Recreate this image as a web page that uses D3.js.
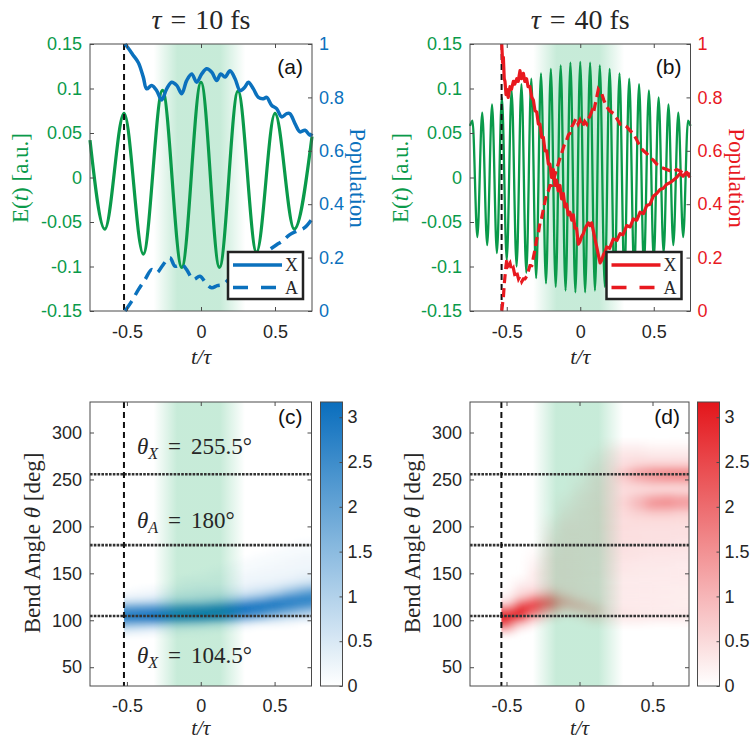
<!DOCTYPE html>
<html><head><meta charset="utf-8">
<script src="https://cdn.jsdelivr.net/npm/d3@7"></script>
<style>
body{margin:0;background:#fff;}
svg text{font-family:"Liberation Sans",Arial,Helvetica,sans-serif;}
</style></head><body>
<svg id="chart" width="753" height="742"></svg>
<script>
// ---------------- DATA ----------------
const xTickVals = [-0.5, 0, 0.5];
const xTickLabels = ["-0.5", "0", "0.5"];
const eTickVals = [-0.15, -0.1, -0.05, 0, 0.05, 0.1, 0.15];
const eTickLabels = ["-0.15", "-0.1", "-0.05", "0", "0.05", "0.1", "0.15"];
const popTickVals = [0, 0.2, 0.4, 0.6, 0.8, 1];
const popTickLabels = ["0", "0.2", "0.4", "0.6", "0.8", "1"];
const thetaTickVals = [50, 100, 150, 200, 250, 300];
const cbTickVals = [0, 0.5, 1, 1.5, 2, 2.5, 3];
const cbTickLabels = ["0", "0.5", "1", "1.5", "2", "2.5", "3"];
const refAngles = [104.5, 180, 255.5];
const pumpStart = [-0.52, -0.535]; // tau = 10 fs, tau = 40 fs

// (a) field extrema, tau = 10 fs  [t/tau, E]
const fieldA = [[-0.75,0.042],[-0.65,-0.058],[-0.52,0.072],[-0.39,-0.086],[-0.26,0.098],[-0.13,-0.101],[0,0.107],[0.125,-0.101],[0.25,0.097],[0.375,-0.084],[0.5,0.072],[0.63,-0.058],[0.75,0.046]];
// (a) populations
const popXA = [[-0.513,1.0],[-0.479,0.975],[-0.457,0.957],[-0.423,0.93],[-0.39,0.876],[-0.367,0.832],[-0.333,0.845],[-0.3,0.826],[-0.266,0.79],[-0.232,0.832],[-0.198,0.857],[-0.164,0.845],[-0.13,0.814],[-0.097,0.863],[-0.063,0.888],[-0.029,0.857],[0.005,0.888],[0.039,0.907],[0.073,0.894],[0.106,0.863],[0.133,0.888],[0.162,0.876],[0.196,0.9],[0.23,0.87],[0.264,0.826],[0.297,0.839],[0.32,0.857],[0.354,0.832],[0.388,0.8],[0.421,0.795],[0.444,0.8],[0.478,0.77],[0.511,0.758],[0.545,0.727],[0.579,0.739],[0.601,0.739],[0.635,0.702],[0.669,0.671],[0.703,0.677],[0.736,0.658],[0.75,0.665]];
const popAA = [[-0.513,0],[-0.468,0.037],[-0.423,0.08],[-0.378,0.118],[-0.333,0.155],[-0.3,0.143],[-0.255,0.174],[-0.21,0.2],[-0.176,0.168],[-0.13,0.174],[-0.097,0.155],[-0.052,0.118],[-0.007,0.13],[0.039,0.1],[0.073,0.087],[0.11,0.095],[0.15,0.1],[0.2,0.125],[0.25,0.15],[0.3,0.17],[0.35,0.2],[0.4,0.205],[0.45,0.225],[0.511,0.248],[0.55,0.262],[0.6,0.286],[0.65,0.3],[0.7,0.312],[0.75,0.345]];

// (b) field extrema, tau = 40 fs
const fieldB = [[-0.75,0.058],[-0.733,0.064],[-0.7,-0.067],[-0.667,0.073],[-0.633,-0.076],[-0.6,0.082],[-0.567,-0.085],[-0.533,0.090],[-0.5,-0.093],[-0.467,0.098],[-0.433,-0.100],[-0.4,0.105],[-0.367,-0.107],[-0.333,0.111],[-0.3,-0.113],[-0.267,0.117],[-0.233,-0.119],[-0.2,0.122],[-0.167,-0.123],[-0.133,0.126],[-0.1,-0.127],[-0.067,0.129],[-0.033,-0.129],[0,0.130],[0.033,-0.129],[0.067,0.129],[0.1,-0.127],[0.133,0.126],[0.167,-0.123],[0.2,0.122],[0.233,-0.119],[0.267,0.117],[0.3,-0.113],[0.333,0.111],[0.367,-0.107],[0.4,0.105],[0.433,-0.100],[0.467,0.098],[0.5,-0.093],[0.533,0.090],[0.567,-0.085],[0.6,0.082],[0.633,-0.076],[0.667,0.073],[0.7,-0.067],[0.733,0.064],[0.75,0.058]];
// (b) populations
const popXB = [[-0.534,1.0],[-0.528,0.93],[-0.523,0.95],[-0.517,0.87],[-0.512,0.86],[-0.505,0.81],[-0.5,0.83],[-0.49,0.80],[-0.478,0.84],[-0.468,0.83],[-0.455,0.86],[-0.445,0.85],[-0.432,0.87],[-0.422,0.86],[-0.41,0.90],[-0.40,0.87],[-0.387,0.89],[-0.377,0.86],[-0.365,0.87],[-0.355,0.84],[-0.342,0.84],[-0.33,0.80],[-0.319,0.79],[-0.308,0.75],[-0.296,0.745],[-0.285,0.70],[-0.274,0.70],[-0.262,0.65],[-0.251,0.65],[-0.24,0.60],[-0.228,0.60],[-0.217,0.55],[-0.206,0.55],[-0.195,0.50],[-0.183,0.53],[-0.172,0.47],[-0.161,0.49],[-0.15,0.45],[-0.138,0.47],[-0.127,0.42],[-0.115,0.44],[-0.104,0.39],[-0.093,0.40],[-0.082,0.36],[-0.07,0.37],[-0.058,0.34],[-0.047,0.36],[-0.036,0.31],[-0.025,0.31],[-0.013,0.25],[-0.002,0.26],[0.01,0.28],[0.021,0.29],[0.033,0.31],[0.044,0.32],[0.055,0.33],[0.066,0.32],[0.078,0.33],[0.089,0.30],[0.1,0.27],[0.112,0.24],[0.123,0.21],[0.135,0.18],[0.146,0.19],[0.157,0.21],[0.168,0.22],[0.18,0.24],[0.2,0.235],[0.225,0.27],[0.25,0.265],[0.271,0.29],[0.29,0.285],[0.316,0.32],[0.34,0.315],[0.361,0.345],[0.385,0.34],[0.407,0.37],[0.43,0.365],[0.452,0.395],[0.475,0.40],[0.497,0.43],[0.52,0.44],[0.543,0.455],[0.565,0.46],[0.588,0.475],[0.61,0.48],[0.633,0.49],[0.655,0.50],[0.679,0.515],[0.7,0.505],[0.724,0.52],[0.747,0.50]];
const popAB = [[-0.534,0.0],[-0.528,0.03],[-0.523,0.05],[-0.517,0.10],[-0.512,0.13],[-0.505,0.17],[-0.5,0.19],[-0.49,0.17],[-0.478,0.18],[-0.466,0.15],[-0.455,0.16],[-0.443,0.13],[-0.432,0.145],[-0.42,0.12],[-0.41,0.13],[-0.398,0.11],[-0.387,0.12],[-0.376,0.12],[-0.365,0.13],[-0.353,0.15],[-0.342,0.17],[-0.33,0.17],[-0.319,0.20],[-0.308,0.23],[-0.296,0.27],[-0.285,0.29],[-0.274,0.33],[-0.262,0.35],[-0.251,0.38],[-0.24,0.41],[-0.228,0.44],[-0.217,0.45],[-0.206,0.47],[-0.195,0.47],[-0.183,0.49],[-0.172,0.51],[-0.161,0.53],[-0.145,0.56],[-0.127,0.59],[-0.11,0.62],[-0.093,0.64],[-0.08,0.66],[-0.07,0.665],[-0.058,0.69],[-0.047,0.70],[-0.03,0.72],[-0.015,0.70],[-0.002,0.715],[0.015,0.69],[0.03,0.71],[0.044,0.70],[0.055,0.72],[0.066,0.73],[0.08,0.75],[0.09,0.74],[0.1,0.77],[0.112,0.80],[0.123,0.83],[0.135,0.82],[0.146,0.815],[0.16,0.79],[0.18,0.765],[0.2,0.75],[0.225,0.74],[0.25,0.72],[0.271,0.70],[0.29,0.70],[0.316,0.69],[0.34,0.675],[0.361,0.665],[0.385,0.64],[0.407,0.615],[0.43,0.60],[0.452,0.59],[0.475,0.575],[0.497,0.565],[0.52,0.55],[0.543,0.54],[0.565,0.535],[0.588,0.53],[0.61,0.525],[0.633,0.52],[0.655,0.53],[0.679,0.525],[0.7,0.515],[0.724,0.51],[0.747,0.515]];

// Heatmaps: column times, first angle of each column (5 deg steps), densities
const heatT = [-0.5,-0.4,-0.3,-0.2,-0.1,0,0.1,0.2,0.3,0.4,0.5,0.6,0.7,0.8];
const heatCTheta0 = [85,85,85,85,85,85,90,90,90,95,95,95,100,100];
const heatCVals = [
 [0.2,0.6,1.4,2.4,2.8,2.6,1.8,0.8,0.3,0.1],
 [0.15,0.5,1.3,2.4,2.9,2.7,1.9,0.9,0.35,0.15,0.05],
 [0.1,0.4,1.2,2.4,3.0,2.8,2.0,1.0,0.45,0.2,0.1],
 [0.1,0.3,1.0,2.3,3.0,2.9,2.1,1.1,0.55,0.3,0.15,0.05],
 [0.05,0.25,0.9,2.2,3.0,3.0,2.3,1.2,0.6,0.4,0.25,0.15,0.1],
 [0.05,0.2,0.8,2.1,3.1,3.1,2.4,1.3,0.7,0.45,0.3,0.2,0.1,0.05],
 [0.15,0.6,1.9,3.0,3.15,2.6,1.5,0.8,0.45,0.3,0.2,0.15,0.1,0.05],
 [0.1,0.5,1.6,2.8,3.1,2.8,1.8,0.95,0.5,0.3,0.2,0.15,0.12,0.1,0.05],
 [0.05,0.35,1.2,2.4,2.95,2.9,2.1,1.2,0.6,0.35,0.25,0.2,0.15,0.12,0.1,0.05],
 [0.2,0.9,2.0,2.7,2.9,2.4,1.5,0.8,0.45,0.3,0.22,0.18,0.15,0.12,0.1,0.05],
 [0.15,0.6,1.5,2.3,2.8,2.7,2.0,1.1,0.6,0.35,0.25,0.2,0.17,0.15,0.12,0.1,0.05],
 [0.1,0.4,1.1,1.9,2.5,2.7,2.4,1.6,0.9,0.5,0.3,0.22,0.2,0.17,0.15,0.12,0.1,0.05],
 [0.3,0.8,1.5,2.2,2.6,2.6,2.0,1.3,0.7,0.4,0.28,0.22,0.2,0.18,0.15,0.12,0.1,0.05],
 [0.25,0.6,1.2,1.9,2.5,2.6,2.3,1.6,0.9,0.5,0.3,0.25,0.2,0.18,0.15,0.12,0.1,0.05]
];
const heatDTheta0 = [85,90,95,100,105,100,95,95,95,95,95,95,95,95];
const heatDVals = [
 [0.3,1.0,2.0,2.7,2.8,2.3,1.3,0.5,0.2,0.1],
 [0.2,0.7,1.6,2.7,3.0,2.6,1.7,0.9,0.5,0.35,0.2,0.1],
 [0.2,0.6,1.3,2.0,2.4,2.2,1.5,0.8,0.45,0.35,0.3,0.3,0.25,0.2,0.15,0.1,0.05],
 [0.2,0.6,1.2,1.8,2.0,1.6,1.0,0.6,0.45,0.4,0.4,0.4,0.4,0.4,0.35,0.35,0.3,0.3,0.25,0.2,0.15,0.1,0.05],
 [0.2,0.5,0.9,1.1,0.9,0.6,0.45,0.42,0.42,0.42,0.42,0.42,0.42,0.42,0.42,0.42,0.4,0.4,0.4,0.38,0.35,0.3,0.25,0.2,0.15,0.1,0.05],
 [0.1,0.3,0.7,0.9,0.8,0.55,0.42,0.4,0.4,0.4,0.4,0.4,0.4,0.4,0.4,0.4,0.4,0.4,0.4,0.4,0.38,0.38,0.36,0.35,0.33,0.3,0.28,0.25,0.2,0.15,0.1,0.05,0.03],
 [0.1,0.3,0.6,0.8,0.7,0.5,0.4,0.38,0.35,0.38,0.35,0.38,0.35,0.38,0.35,0.38,0.38,0.4,0.4,0.4,0.4,0.4,0.4,0.4,0.4,0.4,0.4,0.38,0.38,0.35,0.35,0.32,0.3,0.25,0.2,0.15,0.1,0.05],
 [0.1,0.22,0.35,0.38,0.35,0.3,0.35,0.3,0.35,0.3,0.35,0.35,0.38,0.38,0.4,0.4,0.42,0.42,0.45,0.45,0.45,0.48,0.45,0.48,0.45,0.48,0.45,0.45,0.45,0.48,0.45,0.45,0.42,0.4,0.38,0.35,0.3,0.25,0.15,0.08],
 [0.1,0.22,0.3,0.35,0.3,0.28,0.3,0.28,0.3,0.28,0.3,0.3,0.35,0.35,0.38,0.4,0.42,0.42,0.45,0.45,0.45,0.48,0.45,0.5,0.5,0.55,0.6,0.55,0.5,0.5,0.55,0.65,0.8,0.7,0.5,0.42,0.38,0.3,0.2,0.1],
 [0.1,0.22,0.3,0.3,0.28,0.28,0.28,0.28,0.28,0.28,0.28,0.3,0.3,0.32,0.35,0.38,0.4,0.4,0.42,0.45,0.42,0.45,0.48,0.55,0.65,0.85,0.95,0.85,0.65,0.55,0.7,1.0,1.2,1.1,0.7,0.5,0.4,0.3,0.2,0.1],
 [0.05,0.2,0.28,0.28,0.28,0.28,0.28,0.28,0.28,0.28,0.28,0.28,0.3,0.32,0.32,0.35,0.38,0.38,0.42,0.42,0.42,0.45,0.48,0.6,0.8,1.2,1.4,1.2,0.8,0.6,0.8,1.2,1.4,1.3,0.8,0.5,0.35,0.25,0.15,0.05],
 [0.05,0.2,0.28,0.28,0.25,0.28,0.25,0.28,0.25,0.28,0.28,0.28,0.28,0.32,0.32,0.35,0.38,0.38,0.42,0.42,0.42,0.45,0.48,0.6,0.8,1.2,1.5,1.3,0.9,0.6,0.8,1.3,1.5,1.4,0.8,0.5,0.35,0.25,0.15,0.05],
 [0.05,0.2,0.28,0.28,0.25,0.25,0.25,0.25,0.25,0.28,0.28,0.28,0.28,0.28,0.32,0.32,0.38,0.38,0.38,0.42,0.42,0.42,0.48,0.55,0.7,1.1,1.3,1.2,0.8,0.6,0.8,1.3,1.6,1.4,0.8,0.5,0.35,0.25,0.15,0.05],
 [0.05,0.2,0.28,0.28,0.25,0.25,0.25,0.25,0.25,0.28,0.28,0.28,0.28,0.28,0.32,0.32,0.38,0.38,0.38,0.42,0.42,0.42,0.48,0.55,0.7,1.1,1.3,1.2,0.8,0.6,0.8,1.3,1.6,1.4,0.8,0.5,0.35,0.25,0.15,0.05]
];

// ---------------- STYLE ----------------
const GREEN = "#0a9a4a", BLUE = "#0b71bd", RED = "#e8191f", AX = "#4a4a4a", TXT = "#262626";
const SERIF = "'Liberation Serif','Times New Roman',serif";
const SANS = "'Liberation Sans',Arial,Helvetica,sans-serif";
const svg = d3.select("#chart");
const defs = svg.append("defs");

// scales
const yE = d3.scaleLinear([-0.15, 0.15], [311, 44]);
const yP = d3.scaleLinear([0, 1], [311, 44]);
const yTh = d3.scaleLinear([30, 332.5], [686, 402]);
const cbY = d3.scaleLinear([0, 3.17], [686, 402]);
const xA = d3.scaleLinear([-0.75, 0.75], [90, 312]);
const xB = d3.scaleLinear([-0.75, 0.75], [470, 690.5]);
const xC = d3.scaleLinear([-0.75, 0.75], [90, 311.5]);
const xD = d3.scaleLinear([-0.75, 0.75], [470, 689]);
const cBlue = d3.scaleLinear([0, 3.17], ["#ffffff", "#0a6ebd"]);
const cRed = d3.scaleLinear([0, 3.17], ["#ffffff", "#e3161b"]);

// green pump band gradient
function bandGradient(id, xs) {
  const g = defs.append("linearGradient").attr("id", id).attr("gradientUnits", "userSpaceOnUse")
    .attr("x1", xs(-0.32)).attr("x2", xs(0.30)).attr("y1", 0).attr("y2", 0);
  const span = 0.62;
  [[-0.32, 0], [-0.16, 1], [0.13, 1], [0.30, 0]].forEach(([t, o]) => {
    g.append("stop").attr("offset", (t + 0.32) / span).attr("stop-color", "rgb(0,165,80)").attr("stop-opacity", 0.22 * o);
  });
}
["bandA", "bandB", "bandC", "bandD"].forEach((id, i) => bandGradient(id, [xA, xB, xC, xD][i]));

const blur = defs.append("filter").attr("id", "blur").attr("x", "-10%").attr("y", "-10%").attr("width", "120%").attr("height", "120%");
blur.append("feGaussianBlur").attr("stdDeviation", "5.5 2.2");

function styleAxis(g, color, size) {
  g.select(".domain").remove();
  g.selectAll(".tick line").attr("stroke", AX).attr("stroke-width", 1);
  g.selectAll(".tick text").attr("fill", color).style("font-family", SANS).style("font-size", (size || 18) + "px");
}

function frame(g, xs, ys) {
  const [x0, x1] = xs.range(), [y1, y0] = ys.range();
  g.append("rect").attr("x", x0).attr("y", y0).attr("width", x1 - x0).attr("height", y1 - y0)
    .attr("fill", "none").attr("stroke", AX).attr("stroke-width", 1);
}

function xAxes(g, xs, ys, pad) {
  const [yb, yt] = ys.range();
  const b = g.append("g").attr("transform", `translate(0,${yb})`)
    .call(d3.axisBottom(xs).tickValues(xTickVals).tickFormat((d, i) => xTickLabels[i]).tickSize(-4).tickPadding(pad));
  styleAxis(b, TXT);
  const t = g.append("g").attr("transform", `translate(0,${yt})`)
    .call(d3.axisTop(xs).tickValues(xTickVals).tickFormat("").tickSize(-4));
  styleAxis(t, TXT);
}

function xLabel(g, cx, y, size) {
  g.append("text").attr("x", cx).attr("y", y).attr("text-anchor", "middle")
    .style("font-family", SERIF).style("font-size", size + "px").style("font-style", "italic").attr("fill", TXT)
    .text("t/τ");
}

function topPanel(o) {
  const g = svg.append("g");
  const xs = o.xs;
  const [x0, x1] = xs.range();
  g.append("rect").attr("x", x0).attr("y", 44).attr("width", x1 - x0).attr("height", 267).attr("fill", `url(#${o.band})`);
  // field
  g.append("path").datum(o.field).attr("fill", "none").attr("stroke", GREEN).attr("stroke-width", o.fw)
    .attr("d", d3.line().x(d => xs(d[0])).y(d => yE(d[1])).curve(d3.curveMonotoneX));
  // pump start
  g.append("line").attr("x1", xs(o.vline)).attr("x2", xs(o.vline)).attr("y1", 44).attr("y2", 311)
    .attr("stroke", "#111").attr("stroke-width", 2).attr("stroke-dasharray", "6,4");
  // populations
  const pl = d3.line().x(d => xs(d[0])).y(d => yP(d[1])).curve(o.pcurve);
  g.append("path").datum(o.popX).attr("fill", "none").attr("stroke", o.pc).attr("stroke-width", o.pw)
    .attr("stroke-linejoin", "round").attr("d", pl);
  g.append("path").datum(o.popA).attr("fill", "none").attr("stroke", o.pc).attr("stroke-width", o.pw)
    .attr("stroke-dasharray", o.dash).attr("d", pl);
  // legend
  const lx = x1 - 84, ly = 252;
  g.append("rect").attr("x", lx).attr("y", ly).attr("width", 75).attr("height", 47)
    .attr("fill", "#fff").attr("stroke", "#222").attr("stroke-width", 2.5);
  g.append("line").attr("x1", lx + 5).attr("x2", lx + 54).attr("y1", ly + 13).attr("y2", ly + 13)
    .attr("stroke", o.pc).attr("stroke-width", 3.5);
  g.append("line").attr("x1", lx + 5).attr("x2", lx + 54).attr("y1", ly + 35.5).attr("y2", ly + 35.5)
    .attr("stroke", o.pc).attr("stroke-width", 3.5).attr("stroke-dasharray", "15,13");
  g.append("text").attr("x", lx + 57).attr("y", ly + 19).style("font-family", SERIF).style("font-size", "18px").attr("fill", TXT).text("X");
  g.append("text").attr("x", lx + 57).attr("y", ly + 41.5).style("font-family", SERIF).style("font-size", "18px").attr("fill", TXT).text("A");
  // axes
  frame(g, xs, yE);
  const la = g.append("g").attr("transform", `translate(${x0},0)`)
    .call(d3.axisLeft(yE).tickValues(eTickVals).tickFormat((d, i) => eTickLabels[i]).tickSize(-4).tickPadding(8));
  styleAxis(la, GREEN);
  const ra = g.append("g").attr("transform", `translate(${x1},0)`)
    .call(d3.axisRight(yP).tickValues(popTickVals).tickFormat((d, i) => popTickLabels[i]).tickSize(-4).tickPadding(7));
  styleAxis(ra, o.pc);
  xAxes(g, xs, yE, 14);
  // labels
  const cx = (x0 + x1) / 2;
  const el = g.append("text").attr("transform", `translate(${x0 - 62},178) rotate(-90)`).attr("text-anchor", "middle")
    .style("font-family", SERIF).style("font-size", "23px").attr("fill", GREEN);
  el.append("tspan").text("E(");
  el.append("tspan").style("font-style", "italic").text("t");
  el.append("tspan").text(") [a.u.]");
  g.append("text").attr("transform", `translate(${x1 + 38},178) rotate(90)`).attr("text-anchor", "middle")
    .style("font-family", SERIF).style("font-size", "23px").attr("fill", o.pc).text("Population");
  xLabel(g, cx, 364, 22);
  const tt = g.append("text").attr("x", cx).attr("y", 29).attr("text-anchor", "middle")
    .style("font-family", SERIF).style("font-size", "28px").attr("fill", TXT);
  tt.append("tspan").style("font-style", "italic").text("τ");
  tt.append("tspan").attr("dx", 9).text("=");
  tt.append("tspan").attr("dx", 9).text(o.title);
  g.append("text").attr("x", x1 - 9).attr("y", 74).attr("text-anchor", "end")
    .style("font-family", SANS).style("font-size", "21px").attr("fill", "#111").text(o.tag);
}

topPanel({xs: xA, band: "bandA", field: fieldA, fw: 3.2, vline: pumpStart[0], popX: popXA, popA: popAA,
  pc: BLUE, pw: 3.5, dash: "12,7", pcurve: d3.curveCatmullRom, title: "10 fs", tag: "(a)"});
topPanel({xs: xB, band: "bandB", field: fieldB, fw: 2.3, vline: pumpStart[1], popX: popXB, popA: popAB,
  pc: RED, pw: 3.2, dash: "9,5", pcurve: d3.curveLinear, title: "40 fs", tag: "(b)"});

function heatPanel(o) {
  const g = svg.append("g");
  const xs = o.xs;
  const [x0, x1] = xs.range();
  const cells = [];
  heatT.forEach((t, i) => o.vals[i].forEach((v, j) => cells.push({i, t, th: o.theta0[i] + 5 * j, v})));
  const cid = "clip" + o.tag.replace(/[()]/g, "");
  defs.append("clipPath").attr("id", cid).append("rect")
    .attr("x", xs(o.vline)).attr("y", 402).attr("width", x1 - xs(o.vline)).attr("height", 284);
  const inner = g.append("g").attr("clip-path", `url(#${cid})`).append("g").attr("filter", "url(#blur)");
  inner.selectAll("rect").data(cells).join("rect")
    .attr("x", d => xs(d.i === 0 ? d.t - 0.12 : d.t - 0.05))
    .attr("width", d => xs(d.t + 0.05) - xs(d.i === 0 ? d.t - 0.12 : d.t - 0.05) + 0.5)
    .attr("y", d => yTh(d.th + 2.5))
    .attr("height", d => yTh(d.th - 2.5) - yTh(d.th + 2.5) + 0.3)
    .attr("fill", d => o.color(d.v));
  // green band
  g.append("rect").attr("x", x0).attr("y", 402).attr("width", x1 - x0).attr("height", 284).attr("fill", `url(#${o.band})`);
  // reference angles
  g.selectAll(".ref").data(refAngles).join("line")
    .attr("x1", x0).attr("x2", x1).attr("y1", d => yTh(d)).attr("y2", d => yTh(d))
    .attr("stroke", "#333").attr("stroke-width", 2.6).attr("stroke-dasharray", "2.6,1.2");
  g.append("line").attr("x1", xs(o.vline)).attr("x2", xs(o.vline)).attr("y1", 402).attr("y2", 686)
    .attr("stroke", "#111").attr("stroke-width", 2).attr("stroke-dasharray", "6,4");
  frame(g, xs, yTh);
  const la = g.append("g").attr("transform", `translate(${x0},0)`)
    .call(d3.axisLeft(yTh).tickValues(thetaTickVals).tickSize(-4).tickPadding(8));
  styleAxis(la, TXT);
  const ra = g.append("g").attr("transform", `translate(${x1},0)`)
    .call(d3.axisRight(yTh).tickValues(thetaTickVals).tickFormat("").tickSize(-4));
  styleAxis(ra, TXT);
  xAxes(g, xs, yTh, 13);
  xLabel(g, (x0 + x1) / 2, 735, 21);
  const yl = g.append("text").attr("transform", `translate(${x0 - 50},543) rotate(-90)`).attr("text-anchor", "middle")
    .style("font-family", SERIF).style("font-size", "23px").attr("fill", TXT);
  yl.append("tspan").text("Bend Angle ");
  yl.append("tspan").style("font-style", "italic").text("θ");
  yl.append("tspan").text(" [deg]");
  g.append("text").attr("x", x1 - 9).attr("y", 424).attr("text-anchor", "end")
    .style("font-family", SANS).style("font-size", "21px").attr("fill", "#111").text(o.tag);
  // colorbar
  const gid = "cb" + o.tag.replace(/[()]/g, "");
  const grad = defs.append("linearGradient").attr("id", gid).attr("x1", 0).attr("x2", 0).attr("y1", 1).attr("y2", 0);
  d3.range(0, 11).forEach(k => grad.append("stop").attr("offset", k / 10).attr("stop-color", o.color(3.17 * k / 10)));
  g.append("rect").attr("x", o.cbx).attr("y", 402).attr("width", 22).attr("height", 284)
    .attr("fill", `url(#${gid})`).attr("stroke", AX).attr("stroke-width", 1);
  const ca = g.append("g").attr("transform", `translate(${o.cbx + 22},0)`)
    .call(d3.axisRight(cbY).tickValues(cbTickVals).tickFormat((d, i) => cbTickLabels[i]).tickSize(-3).tickPadding(5));
  styleAxis(ca, TXT);
  // annotations
  if (o.notes) {
    o.notes.forEach(n => {
      const t = g.append("text").attr("x", 137).attr("y", n.y).style("font-family", SERIF).style("font-size", "23px").attr("fill", TXT);
      t.append("tspan").style("font-style", "italic").text("θ");
      t.append("tspan").attr("dy", 5).style("font-size", "16px").style("font-style", "italic").text(n.sub);
      t.append("tspan").attr("dy", -5).attr("dx", 10).text("=");
      t.append("tspan").attr("dx", 10).text(n.val);
    });
  }
  return g;
}

heatPanel({xs: xC, vals: heatCVals, theta0: heatCTheta0, color: cBlue, band: "bandC", vline: pumpStart[0], cbx: 320.5, tag: "(c)",
  notes: [{y: 454, sub: "X", val: "255.5°"}, {y: 528, sub: "A", val: "180°"}, {y: 663, sub: "X", val: "104.5°"}]});
heatPanel({xs: xD, vals: heatDVals, theta0: heatDTheta0, color: cRed, band: "bandD", vline: pumpStart[1], cbx: 697.5, tag: "(d)"});
</script></body></html>
